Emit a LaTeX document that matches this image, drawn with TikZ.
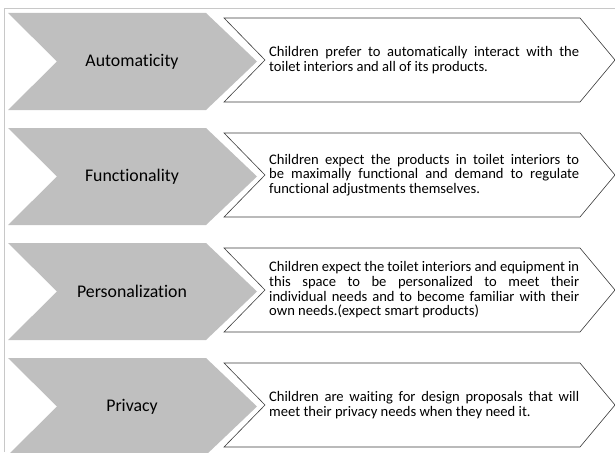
\documentclass[tikz,border=0pt]{standalone}
\usepackage{fontspec}
\setmainfont{Carlito}[RawFeature={-liga;-calt;-dlig;-clig}]
\usetikzlibrary{positioning}
\hyphenpenalty=10000
\definecolor{chevgray}{RGB}{191,191,191}
\definecolor{framegray}{RGB}{200,200,200}
\definecolor{edgegray}{RGB}{60,60,60}
\tikzset{
    headbox/.style={fill=chevgray, draw=none},
    textbox/.style={fill=white, draw=edgegray, line width=0.6pt},
    headtext/.style={font=\fontsize{17.8}{20}\selectfont, inner sep=0pt},
    bodytext/.style={font=\fontsize{14.6}{14.6}\selectfont, text width=310pt, align=justify, inner sep=0pt, anchor=west}
}
\begin{document}
\begin{tikzpicture}[x=1pt, y=-1pt]
    \useasboundingbox (0,0) rectangle (615,452);
    \path[draw=framegray, line width=0.8pt] (4,452) -- (4,8) -- (615,8);

    % gray heads
    \path[headbox] (8,13) -- (206,13) -- (257,61.5) -- (206,110) -- (8,110) -- (57,61.5) -- cycle;
    \path[headbox] (8,128) -- (206,128) -- (257,176.5) -- (206,225) -- (8,225) -- (57,176.5) -- cycle;
    \path[headbox] (8,243) -- (206,243) -- (257,291.5) -- (206,340) -- (8,340) -- (57,291.5) -- cycle;
    \path[headbox] (8,358) -- (206,358) -- (257,406.5) -- (206,455) -- (8,455) -- (57,406.5) -- cycle;

    % white text arrows
    \path[textbox] (224,18) -- (580,18) -- (615,60) -- (580,102) -- (224,102) -- (265,60) -- cycle;
    \path[textbox] (224,133) -- (580,133) -- (615,175) -- (580,217) -- (224,217) -- (265,175) -- cycle;
    \path[textbox] (224,248) -- (580,248) -- (615,290) -- (580,332) -- (224,332) -- (265,290) -- cycle;
    \path[textbox] (224,363) -- (580,363) -- (615,405) -- (580,447) -- (224,447) -- (265,405) -- cycle;

    \node[headtext] (auto) at (132,61.5) {Automaticity};
    \node[headtext] (func) at (132,176.5) {Functionality};
    \node[headtext] (pers) at (132,291.5) {Personalization};
    \node[headtext] (priv) at (132,406.5) {Privacy};

    \node[bodytext] (autotxt) at (269,60) {Children prefer to automatically interact with the\linebreak toilet interiors and all of its products.};
    \node[bodytext] (functxt) at (269,175) {Children expect the products in toilet interiors to\linebreak be maximally functional and demand to regulate\linebreak functional adjustments themselves.};
    \node[bodytext] (perstxt) at (269,290) {Children expect the toilet interiors and equipment in\linebreak this space to be personalized to meet their\linebreak individual needs and to become familiar with their\linebreak own needs.(expect smart products)};
    \node[bodytext] (privtxt) at (269,405) {Children are waiting for design proposals that will\linebreak meet their privacy needs when they need it.};
\end{tikzpicture}
\end{document}
